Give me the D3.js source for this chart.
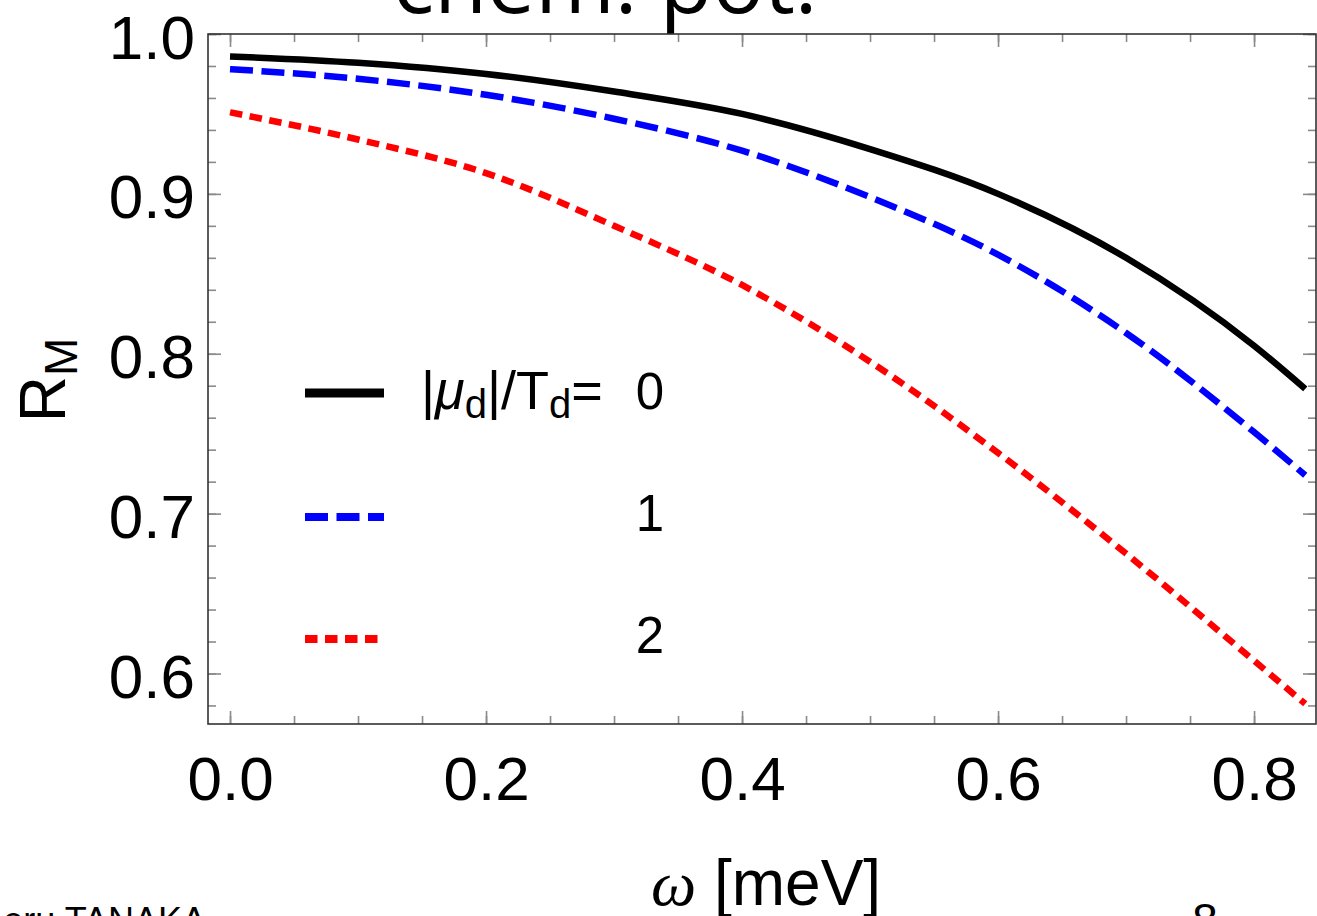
<!DOCTYPE html>
<html>
<head>
<meta charset="utf-8">
<script src="https://cdn.jsdelivr.net/npm/d3@7"></script>
<style>
    body { margin: 0; background: #fff; }
    svg { display: block; }
</style>
</head>
<body>
<div id="chart"></div>
<script>
// Chart data
const omega = [0, 0.1, 0.2, 0.3, 0.4, 0.5, 0.6, 0.7, 0.8, 0.84];
const rMu0 = [0.986, 0.982, 0.975, 0.964, 0.950, 0.928, 0.900, 0.860, 0.805, 0.778];
const rMu1 = [0.978, 0.972, 0.962, 0.947, 0.927, 0.898, 0.862, 0.813, 0.751, 0.724];
const rMu2 = [0.951, 0.934, 0.913, 0.880, 0.843, 0.795, 0.738, 0.675, 0.608, 0.581];
const legendValues = ["0", "1", "2"];
const xTicks = [0, 0.2, 0.4, 0.6, 0.8];
const yTicks = [0.6, 0.7, 0.8, 0.9, 1.0];
const xMinorTicks = d3.range(0, 0.8501, 0.05);
const yMinorTicks = d3.range(0.58, 1.0001, 0.02);

const series = [
    { values: rMu0, color: '#000000', dash: null, label: legendValues[0] },
    { values: rMu1, color: '#0000ff', dash: '23,8.5', label: legendValues[1] },
    { values: rMu2, color: '#ff0000', dash: '12.5,7.5', label: legendValues[2] }
];

const svgWidth = 1317;
const svgHeight = 916;
const margin = { top: 34, right: 1, bottom: 192, left: 208 };
const width = svgWidth - margin.left - margin.right;
const height = svgHeight - margin.top - margin.bottom;
const font = '"Liberation Sans", Arial, sans-serif';

const root = d3.select('#chart').append('svg')
    .attr('width', svgWidth)
    .attr('height', svgHeight);

// Slide title, mostly cut off at the top
root.append('text')
    .attr('x', 393)
    .attr('y', 13)
    .style('font-family', '"Open Sans", sans-serif')
    .style('font-size', '86px')
    .text('chem. pot.');

const svg = root.append('g')
    .attr('transform', `translate(${margin.left},${margin.top})`);

const xScale = d3.scaleLinear()
    .domain([-0.0172, 0.8484])
    .range([0, width]);

const yScale = d3.scaleLinear()
    .domain([0.5684, 1.0])
    .range([height, 0]);

// Ticks on all four sides (pointing inward), no labels
function drawTicks(axis, transform, values, size) {
    const g = svg.append('g')
        .attr('transform', transform)
        .call(axis.tickValues(values).tickSize(-size).tickFormat(''));
    g.select('.domain').remove();
    g.selectAll('line').attr('stroke', '#8a8a8a').attr('stroke-width', 1.6);
    return g;
}

drawTicks(d3.axisBottom(xScale), `translate(0,${height})`, xMinorTicks, 8);
drawTicks(d3.axisTop(xScale), 'translate(0,0)', xMinorTicks, 8);
drawTicks(d3.axisLeft(yScale), 'translate(0,0)', yMinorTicks, 8);
drawTicks(d3.axisRight(yScale), `translate(${width},0)`, yMinorTicks, 8);
drawTicks(d3.axisTop(xScale), 'translate(0,0)', xTicks, 13);
drawTicks(d3.axisRight(yScale), `translate(${width},0)`, yTicks, 13);

// Major ticks with labels
const xAxis = svg.append('g')
    .attr('transform', `translate(0,${height})`)
    .call(d3.axisBottom(xScale).tickValues(xTicks).tickSize(-13).tickFormat(d3.format('.1f')));
xAxis.select('.domain').remove();
xAxis.selectAll('line').attr('stroke', '#8a8a8a').attr('stroke-width', 1.6);
xAxis.selectAll('text')
    .attr('y', 76)
    .attr('dy', 0)
    .attr('fill', '#000')
    .style('font-family', font)
    .style('font-size', '62px');

const yAxis = svg.append('g')
    .call(d3.axisLeft(yScale).tickValues(yTicks).tickSize(-13).tickFormat(d3.format('.1f')));
yAxis.select('.domain').remove();
yAxis.selectAll('line').attr('stroke', '#8a8a8a').attr('stroke-width', 1.6);
yAxis.selectAll('text')
    .attr('x', -13)
    .attr('dy', 24)
    .attr('fill', '#000')
    .style('font-family', font)
    .style('font-size', '62px');

// Frame
svg.append('rect')
    .attr('width', width)
    .attr('height', height)
    .attr('fill', 'none')
    .attr('stroke', '#333')
    .attr('stroke-width', 1.6);

// Curves
const line = d3.line()
    .x((d, i) => xScale(omega[i]))
    .y(d => yScale(d))
    .curve(d3.curveMonotoneX);

series.forEach(s => {
    svg.append('path')
        .datum(s.values)
        .attr('d', line)
        .attr('fill', 'none')
        .attr('stroke', s.color)
        .attr('stroke-width', 6.5)
        .attr('stroke-dasharray', s.dash);
});

// Legend
const legendY = [393, 517, 639];
const legendNumY = [409, 531, 653];
series.forEach((s, i) => {
    root.append('line')
        .attr('x1', 305)
        .attr('x2', i === 2 ? 378 : 384)
        .attr('y1', legendY[i])
        .attr('y2', legendY[i])
        .attr('stroke', s.color)
        .attr('stroke-width', i === 0 ? 9 : 8)
        .attr('stroke-dasharray', s.dash);

    root.append('text')
        .attr('x', 650)
        .attr('y', legendNumY[i])
        .attr('text-anchor', 'middle')
        .style('font-family', font)
        .style('font-size', '51px')
        .text(s.label);
});

const legendTitle = root.append('text')
    .attr('x', 421)
    .attr('y', 409)
    .style('font-family', font)
    .style('font-size', '54px');
legendTitle.append('tspan').text('|');
legendTitle.append('tspan').style('font-style', 'italic').text('\u03bc');
legendTitle.append('tspan').attr('dy', 9).style('font-size', '40px').text('d');
legendTitle.append('tspan').attr('dy', -9).text('|/T');
legendTitle.append('tspan').attr('dy', 9).style('font-size', '40px').text('d');
legendTitle.append('tspan').attr('dy', -9).text('=');

// Y axis label
const yLabel = root.append('text')
    .attr('transform', 'translate(65,380) rotate(-90)')
    .attr('text-anchor', 'middle')
    .style('font-family', font)
    .style('font-size', '64px');
yLabel.append('tspan').text('R');
yLabel.append('tspan').attr('dy', 12).style('font-size', '46px').text('M');

// X axis label
const xLabel = root.append('text')
    .attr('x', 651)
    .attr('y', 905)
    .style('font-family', font)
    .style('font-size', '64px');
xLabel.append('tspan')
    .style('font-family', '"Liberation Serif", serif')
    .style('font-style', 'italic')
    .text('\u03c9');
xLabel.append('tspan').text(' [meV]');

// Footer remnants, cut off at the bottom edge
root.append('text')
    .attr('x', 206)
    .attr('y', 933)
    .attr('text-anchor', 'end')
    .style('font-family', font)
    .style('font-size', '36px')
    .text('eru TANAKA');

root.append('text')
    .attr('x', 1205)
    .attr('y', 936)
    .attr('text-anchor', 'middle')
    .style('font-family', font)
    .style('font-size', '46px')
    .text('8');
</script>
</body>
</html>
